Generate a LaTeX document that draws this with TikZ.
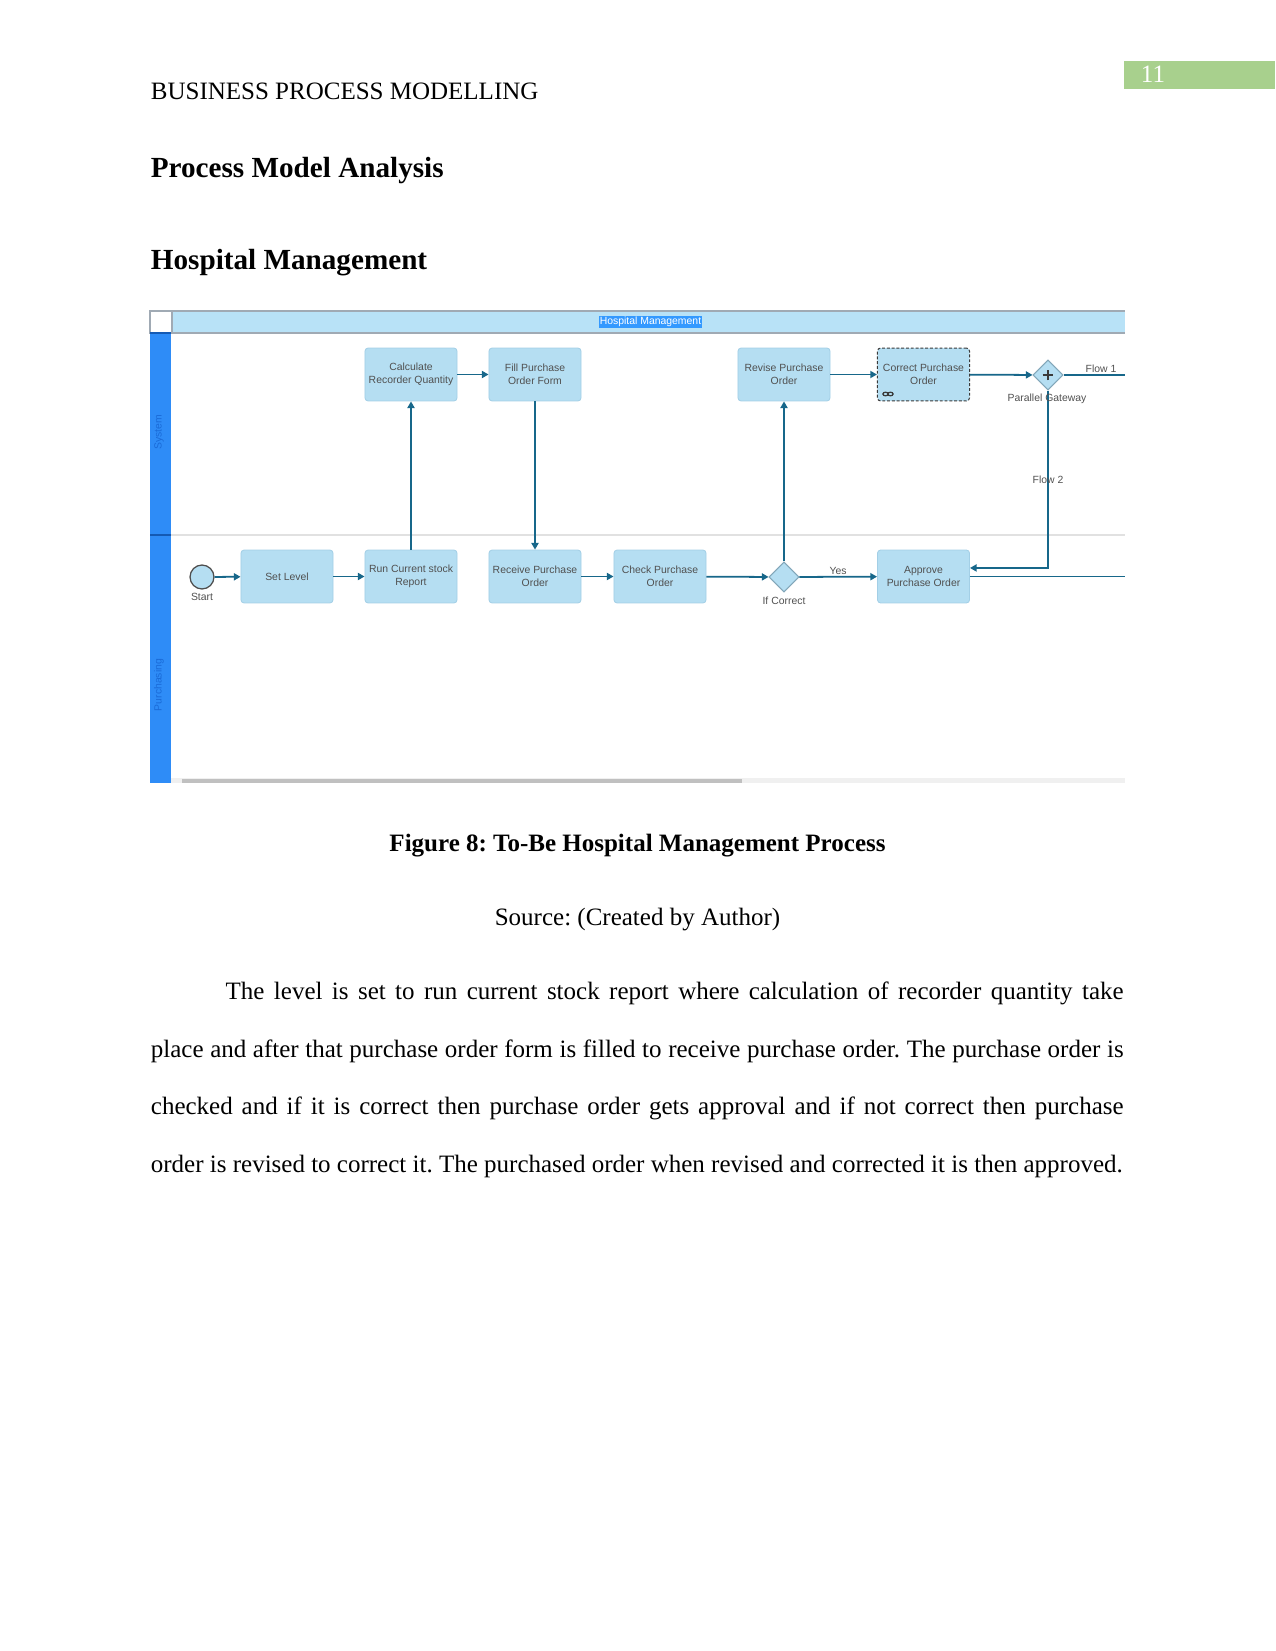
\documentclass[tikz,border=0pt]{standalone}
\usepackage{fontspec}
\setmainfont{Liberation Serif}
\newfontfamily\arialf{Liberation Sans}
\usetikzlibrary{arrows.meta,shapes.geometric}
\definecolor{boxfill}{RGB}{181,222,242}
\definecolor{boxdraw}{RGB}{163,207,230}
\definecolor{arrowc}{RGB}{23,103,138}
\definecolor{hdrfill}{RGB}{184,226,247}
\definecolor{hdrline}{RGB}{160,170,180}
\definecolor{lanebar}{RGB}{46,140,247}
\definecolor{lanedark}{RGB}{20,90,180}
\definecolor{lanetext}{RGB}{26,107,216}
\definecolor{lanediv}{RGB}{225,225,225}
\definecolor{tgray}{RGB}{80,80,80}
\definecolor{selblue}{RGB}{51,153,255}
\definecolor{pgreen}{RGB}{168,208,141}
\definecolor{track}{RGB}{240,240,240}
\definecolor{thumb}{RGB}{192,192,192}
\definecolor{dashc}{RGB}{58,58,58}
\frenchspacing
\begin{document}
\begin{tikzpicture}[x=0.48pt,y=-0.48pt,
  task/.style={draw=boxdraw, fill=boxfill, rounded corners=1.5pt, minimum width=44.2pt, minimum height=25.4pt, inner sep=0pt, align=center, font=\arialf\fontsize{5}{6}\selectfont, text=tgray, line width=0.4pt},
  flow/.style={draw=arrowc, line width=0.85pt, -{Triangle[length=3.2pt,width=3.4pt]}},
  flowline/.style={draw=arrowc, line width=0.85pt},
  lbl/.style={font=\arialf\fontsize{5}{6}\selectfont, text=tgray, inner sep=0pt},
  gate/.style={shape=diamond, draw=boxdraw!80!black, fill=boxfill, minimum width=14.4pt, minimum height=14.4pt, inner sep=0pt, line width=0.5pt},
  bodyline/.style={anchor=base west, inner sep=0pt, font=\fontsize{12}{14}\selectfont}
]
\useasboundingbox (0,0) rectangle (1275,1651);

% page header
\node[anchor=base west, inner sep=0pt, font=\fontsize{12}{14}\selectfont] (runhead) at (150.5,99.5) {BUSINESS PROCESS MODELLING};
\fill[pgreen] (1124,61) rectangle (1275,89.5);
\node[anchor=base, inner sep=0pt, text=white, font=\fontsize{12}{14}\selectfont] (pnum) at (1153,83) {11};

\node[anchor=base west, inner sep=0pt, font=\bfseries\fontsize{14}{16}\selectfont] (h1) at (150.5,178) {Process Model Analysis};
\node[anchor=base west, inner sep=0pt, font=\bfseries\fontsize{14}{16}\selectfont] (h2) at (150.5,269.5) {Hospital Management};

% diagram frame
\fill[hdrfill] (172,311) rectangle (1125,333);
\draw[hdrline, line width=0.5pt] (150,311) -- (1125,311);
\draw[hdrline, line width=0.5pt] (150,333) -- (1125,333);
\filldraw[fill=white, draw=hdrline, line width=0.5pt] (150,311) rectangle (172,333);
\node[fill=selblue, text=white, inner sep=0.6pt, font=\arialf\fontsize{5}{6}\selectfont] (title) at (650.5,322) {Hospital Management};
\fill[lanebar] (150,333) rectangle (171,783);
\draw[lanedark, line width=0.8pt] (150,333) -- (171,333);
\draw[lanedark, line width=0.8pt] (150,535) -- (171,535);
\draw[lanediv, line width=0.8pt] (171,535) -- (1125,535);
\node[rotate=90, text=lanetext, inner sep=0pt, font=\arialf\fontsize{5}{6}\selectfont] (lsys) at (159,432) {System};
\node[rotate=90, text=lanetext, inner sep=0pt, font=\arialf\fontsize{5}{6}\selectfont] (lpur) at (159,685) {Purchasing};
\fill[track] (171,777.5) rectangle (1125,783);
\fill[thumb] (182,778.5) rectangle (742,782.5);

% tasks
\node[task] (calc) at (411,374.5) {Calculate\\Recorder Quantity};
\node[task] (fill) at (535,374.5) {Fill Purchase\\Order Form};
\node[task] (revise) at (784,374.5) {Revise Purchase\\Order};
\node[task, draw=dashc, dash pattern=on 1.4pt off 0.9pt, line width=0.5pt] (correct) at (923.5,374.5) {Correct Purchase\\Order};
\node[task] (setlvl) at (287,576.5) {Set Level};
\node[task] (run) at (411,576.5) {Run Current stock\\Report};
\node[task] (recv) at (535,576.5) {Receive Purchase\\Order};
\node[task] (check) at (660,576.5) {Check Purchase\\Order};
\node[task] (approve) at (923.5,576.5) {Approve\\Purchase Order};

% loop icon on correct
\draw[dashc, line width=0.6pt] (885.5,394) ellipse (2.6 and 1.8);
\draw[dashc, line width=0.6pt] (890.5,394) ellipse (2.6 and 1.8);

% events and gateways
\node[circle, draw=dashc!90, fill=boxfill, minimum size=11.5pt, inner sep=0pt, line width=0.6pt] (start) at (202,577) {};
\node[lbl] (startl) at (202,597) {Start};
\node[gate] (ifc) at (784,577) {};
\node[lbl] (ifcl) at (784,601) {If Correct};
\node[gate] (pg) at (1048,375) {};
\draw[dashc, line width=1pt] ([xshift=-2.6pt]pg.center) -- ([xshift=2.6pt]pg.center);
\draw[dashc, line width=1pt] ([yshift=-2.6pt]pg.center) -- ([yshift=2.6pt]pg.center);

\coordinate (f1end) at (1125,375);
\coordinate (apend) at (1125,576.5);

% flows
\draw[flow] (start) -- (setlvl);
\draw[flow] (setlvl) -- (run);
\draw[flow] (run) -- (calc);
\draw[flow] (calc) -- (fill);
\draw[flow] (fill) -- (recv);
\draw[flow] (recv) -- (check);
\draw[flow] (check) -- (ifc);
\draw[flow] (ifc) -- (revise);
\draw[flow] (ifc) -- (approve);
\draw[flow] (revise) -- (correct);
\draw[flow] (correct) -- (pg);
\draw[flowline] (pg) -- (f1end);
\draw[flow] (pg.south) |- ([yshift=4.1pt]approve.east);
\draw[flowline] (approve) -- (apend);

\node[lbl] (yesl) at (838,571) {Yes};
\node[lbl] (f1l) at (1101,369) {Flow 1};
\node[lbl] (f2l) at (1048,480) {Flow 2};
\node[lbl] (pgl) at (1047,399) {Parallel Gateway};

% caption
\node[anchor=base, inner sep=0pt, font=\bfseries\fontsize{12}{14}\selectfont] (cap) at (637.5,851.5) {Figure 8: To-Be Hospital Management Process};
\node[anchor=base, inner sep=0pt, font=\fontsize{12}{14}\selectfont] (src) at (637.5,925.5) {Source: (Created by Author)};

% body
\node[bodyline] (b1) at (225.3,999) {\makebox[431pt][s]{The level is set to run current stock report where calculation of recorder quantity take}};
\node[bodyline] (b2) at (150.5,1057) {\makebox[466.9pt][s]{place and after that purchase order form is filled to receive purchase order. The purchase order is}};
\node[bodyline] (b3) at (150.5,1114) {\makebox[466.9pt][s]{checked and if it is correct then purchase order gets approval and if not correct then purchase}};
\node[bodyline] (b4) at (150.5,1172) {order is revised to correct it. The purchased order when revised and corrected it is then approved.};
\end{tikzpicture}
\end{document}
